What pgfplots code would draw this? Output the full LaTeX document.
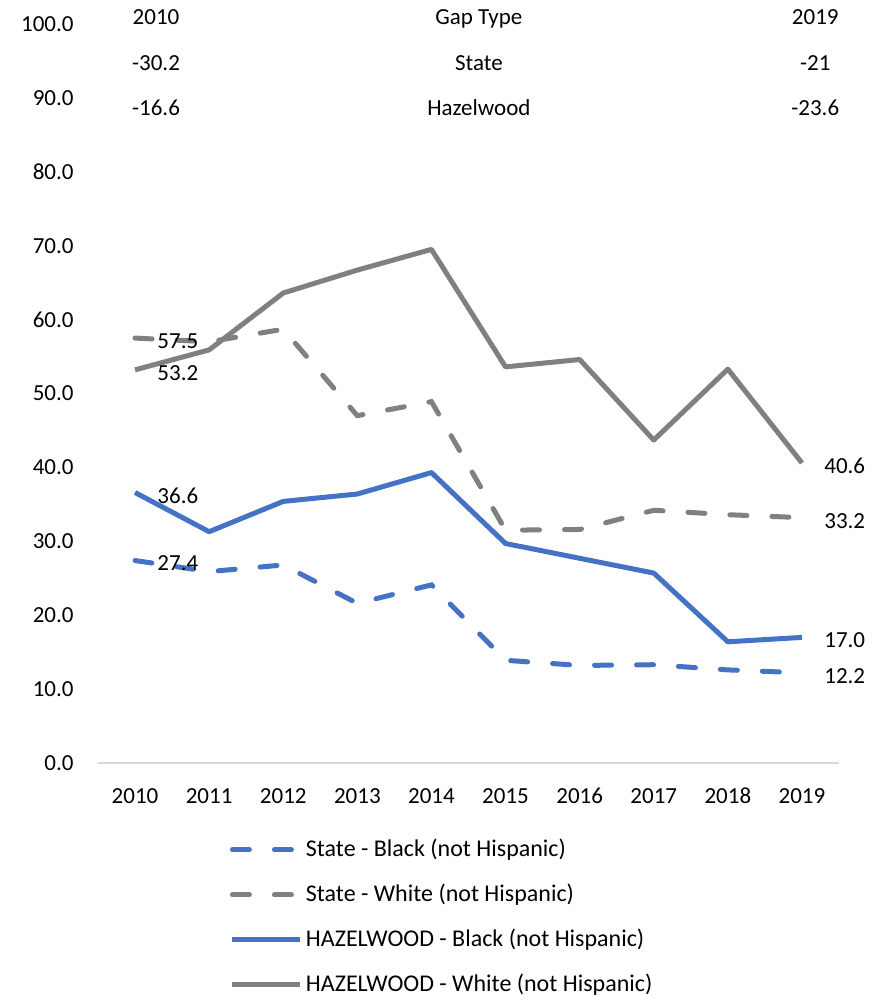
\documentclass[border=0pt]{standalone}
\usepackage{fontspec}
\setmainfont{Carlito}
\usepackage{pgfplots}
\pgfplotsset{compat=1.18}
\definecolor{cblue}{HTML}{4472C4}
\definecolor{cgray}{HTML}{808080}
\definecolor{caxis}{HTML}{D9D9D9}
\begin{document}
\fontsize{11.5}{14}\selectfont
\begin{tikzpicture}
\path[use as bounding box] (-49pt,-116pt) rectangle (394pt,381.5pt);
\begin{axis}[
  at={(0,0)}, anchor=south west,
  scale only axis, width=370.5pt, height=369.5pt,
  xmin=-0.5, xmax=9.5, ymin=0, ymax=100,
  clip=false,
  axis x line=bottom, axis y line=left,
  x axis line style={draw=caxis, line width=1pt, -},
  y axis line style={draw=none},
  major tick length=0pt,
  xtick={0,1,2,3,4,5,6,7,8,9},
  xticklabels={2010,2011,2012,2013,2014,2015,2016,2017,2018,2019},
  ytick={0,10,20,30,40,50,60,70,80,90,100},
  yticklabel style={/pgf/number format/.cd, fixed, fixed zerofill, precision=1, /tikz/.cd, xshift=-8.2pt},
  xticklabel style={text height=7.6pt, text depth=0pt, yshift=-8.5pt},
  /pgf/number format/assume math mode=true,
  legend style={at={(0.1775,-0.0988)}, anchor=north west, draw=none, fill=none,
    inner sep=0pt, row sep=9.0pt, legend cell align=left,
    font=\fontsize{12}{14}\selectfont,
    nodes={inner sep=1.5pt}},
  legend image code/.code={\draw[#1] (0pt,0pt) -- (34pt,0pt);},
]
\addplot[cblue, line width=2.5pt, line cap=round, dash pattern=on 8.5pt off 12.5pt] coordinates {
 (0,27.4) (1,25.9) (2,26.8) (3,21.6) (4,24.1) (5,13.9) (6,13.2) (7,13.3) (8,12.6) (9,12.2)};
\addlegendentry{State - Black (not Hispanic)}
\addplot[cgray, line width=2.5pt, line cap=round, dash pattern=on 8.5pt off 12.5pt] coordinates {
 (0,57.5) (1,57.0) (2,58.7) (3,47.0) (4,48.9) (5,31.5) (6,31.6) (7,34.2) (8,33.6) (9,33.2)};
\addlegendentry{State - White (not Hispanic)}
\addplot[cblue, line width=2.5pt, line join=round] coordinates {
 (0,36.6) (1,31.3) (2,35.4) (3,36.4) (4,39.3) (5,29.7) (6,27.7) (7,25.7) (8,16.4) (9,17.0)};
\addlegendentry{HAZELWOOD - Black (not Hispanic)}
\addplot[cgray, line width=2.5pt, line join=round] coordinates {
 (0,53.2) (1,55.9) (2,63.6) (3,66.7) (4,69.5) (5,53.6) (6,54.6) (7,43.7) (8,53.3) (9,40.6)};
\addlegendentry{HAZELWOOD - White (not Hispanic)}
\addplot[draw=none, mark=none, forget plot, nodes near coords, point meta=y,
  nodes near coords style={anchor=west, xshift=11pt, yshift=-1.5pt, inner sep=0pt,
   /pgf/number format/fixed, /pgf/number format/fixed zerofill, /pgf/number format/precision=1}]
 coordinates {(0,57.5) (0,53.2) (0,36.6) (0,27.4) (9,40.6) (9,33.2) (9,17.0) (9,12.2)};
\node[anchor=base] at (axis cs:0.283,99.93) {2010};
\node[anchor=base] at (axis cs:4.64,99.93) {Gap Type};
\node[anchor=base] at (axis cs:9.18,99.93) {2019};
\node[anchor=base] at (axis cs:0.283,93.71) {-30.2};
\node[anchor=base] at (axis cs:4.64,93.71) {State};
\node[anchor=base] at (axis cs:9.18,93.71) {-21};
\node[anchor=base] at (axis cs:0.283,87.62) {-16.6};
\node[anchor=base] at (axis cs:4.64,87.62) {Hazelwood};
\node[anchor=base] at (axis cs:9.18,87.62) {-23.6};
\end{axis}
\end{tikzpicture}
\end{document}
